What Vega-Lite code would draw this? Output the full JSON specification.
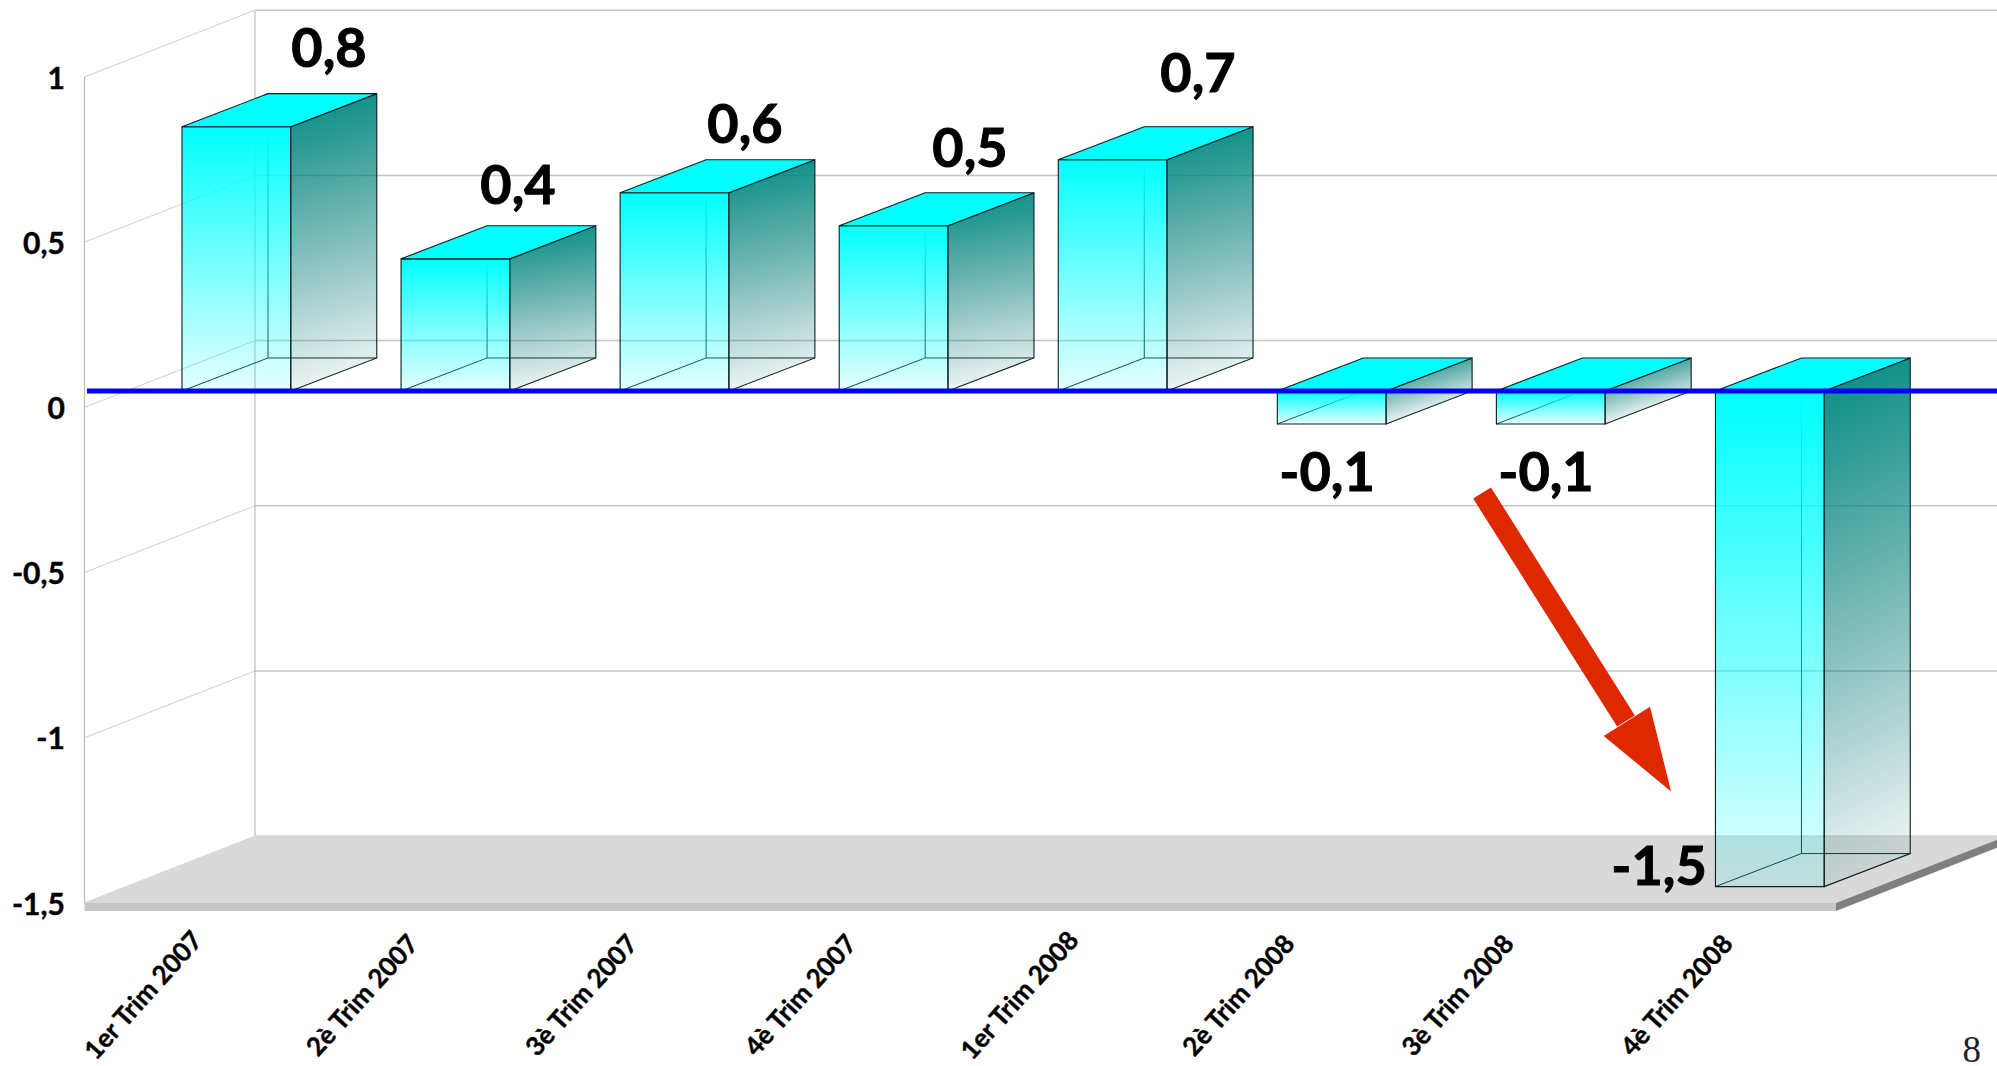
{"$schema":"https://vega.github.io/schema/vega-lite/v6.json","width":1997,"height":1066,"autosize":{"type":"none"},"padding":0,"background":"white","config":{"view":{"stroke":null},"axis":{"disable":true},"legend":{"disable":true}},"datasets":{"bars":[{"trimestre":"1er Trim 2007","q":1,"valeur":0.8,"etiquette":"0,8"},{"trimestre":"2è Trim 2007","q":2,"valeur":0.4,"etiquette":"0,4"},{"trimestre":"3è Trim 2007","q":3,"valeur":0.6,"etiquette":"0,6"},{"trimestre":"4è Trim 2007","q":4,"valeur":0.5,"etiquette":"0,5"},{"trimestre":"1er Trim 2008","q":5,"valeur":0.7,"etiquette":"0,7"},{"trimestre":"2è Trim 2008","q":6,"valeur":-0.1,"etiquette":"-0,1"},{"trimestre":"3è Trim 2008","q":7,"valeur":-0.1,"etiquette":"-0,1"},{"trimestre":"4è Trim 2008","q":8,"valeur":-1.5,"etiquette":"-1,5"}],"ticks":[{"tick":1,"txt":"1"},{"tick":0.5,"txt":"0,5"},{"tick":0,"txt":"0"},{"tick":-0.5,"txt":"-0,5"},{"tick":-1,"txt":"-1"},{"tick":-1.5,"txt":"-1,5"}],"plane":[{"plane":0},{"plane":1}],"one":[{"n":1}]},"data":{"name":"bars"},"transform":[{"calculate":"datum.q-0.2465","as":"left"},{"calculate":"datum.q+0.25","as":"right"},{"calculate":"max(datum.valeur,0)","as":"top"},{"calculate":"min(datum.valeur,0)","as":"base"},{"calculate":"datum.left+0.3926","as":"bl"},{"calculate":"datum.right+0.3926","as":"br"},{"calculate":"datum.top+0.1","as":"tb"},{"calculate":"datum.base+0.1","as":"bb"}],"layer":[{"data":{"name":"ticks"},"transform":[{"calculate":"datum.tick+0.1526","as":"yb"}],"mark":{"type":"rule","color":"#c4c4c4","strokeWidth":1.5},"encoding":{"x":{"datum":1.0867,"type":"quantitative","scale":{"domain":[-0.0773,9.0387],"nice":false,"zero":false}},"x2":{"datum":9.0387},"y":{"field":"yb","type":"quantitative","scale":{"domain":[-2.043,1.1834],"nice":false,"zero":false}}}},{"data":{"name":"ticks"},"transform":[{"calculate":"datum.tick+0.1526","as":"yb"},{"calculate":"datum.tick-0.0496","as":"yf"}],"mark":{"type":"rule","color":"#cfcfcf","strokeWidth":1},"encoding":{"x":{"datum":0.3084,"type":"quantitative"},"x2":{"datum":1.0867},"y":{"field":"yf","type":"quantitative"},"y2":{"field":"yb"}}},{"data":{"name":"one"},"mark":{"type":"rule","color":"#bdbdbd","strokeWidth":1.2},"encoding":{"x":{"datum":0.3084,"type":"quantitative"},"y":{"datum":0.9504,"type":"quantitative"},"y2":{"datum":-1.5496}}},{"data":{"name":"one"},"mark":{"type":"rule","color":"#bdbdbd","strokeWidth":1.2},"encoding":{"x":{"datum":1.0867,"type":"quantitative"},"y":{"datum":1.1526,"type":"quantitative"},"y2":{"datum":-1.3474}}},{"data":{"name":"plane"},"transform":[{"calculate":"0.3084+0.776*datum.plane","as":"x1"},{"calculate":"8.3037+0.776*datum.plane","as":"x2"},{"calculate":"-1.5496+0.2022*datum.plane","as":"y1"}],"mark":{"type":"area","orient":"horizontal","color":"#d9d9d9"},"encoding":{"y":{"field":"y1","type":"quantitative"},"x":{"field":"x1","type":"quantitative"},"x2":{"field":"x2"}}},{"data":{"name":"plane"},"transform":[{"calculate":"8.3037+0.776*datum.plane","as":"x1"},{"calculate":"-1.5496+0.2022*datum.plane","as":"y1"},{"calculate":"-1.5738+0.2022*datum.plane","as":"y2"}],"mark":{"type":"area","orient":"vertical","color":"#7f7f7f"},"encoding":{"x":{"field":"x1","type":"quantitative"},"y":{"field":"y1","type":"quantitative"},"y2":{"field":"y2"}}},{"data":{"name":"one"},"mark":{"type":"rect","color":"#c6c6c6"},"encoding":{"x":{"datum":0.3084,"type":"quantitative"},"x2":{"datum":8.3037},"y":{"datum":-1.5496,"type":"quantitative"},"y2":{"datum":-1.5738}}},{"mark":{"type":"rule","color":"#0a2e2e","strokeWidth":1},"encoding":{"x":{"field":"bl","type":"quantitative"},"y":{"field":"tb","type":"quantitative"},"y2":{"field":"bb"}}},{"mark":{"type":"rule","color":"#0a2e2e","strokeWidth":1},"encoding":{"x":{"field":"bl","type":"quantitative"},"x2":{"field":"br"},"y":{"field":"bb","type":"quantitative"}}},{"mark":{"type":"rule","color":"#0a2e2e","strokeWidth":1},"encoding":{"x":{"field":"left","type":"quantitative"},"x2":{"field":"bl"},"y":{"field":"base","type":"quantitative"},"y2":{"field":"bb"}}},{"mark":{"type":"rect","stroke":"#0a2020","strokeWidth":1.1,"fill":{"gradient":"linear","x1":0,"y1":0,"x2":0,"y2":1,"stops":[{"offset":0,"color":"rgba(0,255,255,1)"},{"offset":1,"color":"rgba(0,255,255,0.1)"}]}},"encoding":{"x":{"field":"left","type":"quantitative"},"x2":{"field":"right"},"y":{"field":"top","type":"quantitative"},"y2":{"field":"base"}}},{"transform":[{"filter":"datum.valeur<-0.2||datum.valeur>0.2"},{"calculate":"[0,1]","as":"t"},{"flatten":["t"]},{"calculate":"datum.right+0.3926*datum.t","as":"sx"},{"calculate":"datum.top+0.1*datum.t","as":"sy"},{"calculate":"datum.base+0.1*datum.t","as":"sy2"}],"mark":{"type":"area","orient":"vertical","stroke":"#0a2020","strokeWidth":1.1,"fill":{"gradient":"linear","x1":0,"y1":0,"x2":0.08,"y2":1,"stops":[{"offset":0,"color":"rgba(0,140,130,1)"},{"offset":1,"color":"rgba(0,110,110,0.07)"}]}},"encoding":{"x":{"field":"sx","type":"quantitative"},"y":{"field":"sy","type":"quantitative"},"y2":{"field":"sy2"},"detail":{"field":"q","type":"nominal"}}},{"transform":[{"filter":"datum.valeur>=-0.2&&datum.valeur<=0.2"},{"calculate":"[0,1]","as":"t"},{"flatten":["t"]},{"calculate":"datum.right+0.3926*datum.t","as":"sx"},{"calculate":"datum.top+0.1*datum.t","as":"sy"},{"calculate":"datum.base+0.1*datum.t","as":"sy2"}],"mark":{"type":"area","orient":"vertical","stroke":"#0a2020","strokeWidth":1.1,"fill":{"gradient":"linear","x1":0,"y1":0,"x2":0.4,"y2":1,"stops":[{"offset":0.1,"color":"rgba(0,140,130,1)"},{"offset":0.9,"color":"rgba(0,110,110,0.04)"}]}},"encoding":{"x":{"field":"sx","type":"quantitative"},"y":{"field":"sy","type":"quantitative"},"y2":{"field":"sy2"},"detail":{"field":"q","type":"nominal"}}},{"transform":[{"calculate":"[0,1]","as":"t"},{"flatten":["t"]},{"calculate":"datum.left+0.3926*datum.t","as":"tx"},{"calculate":"datum.right+0.3926*datum.t","as":"tx2"},{"calculate":"datum.top+0.1*datum.t","as":"ty"}],"mark":{"type":"area","orient":"horizontal","fill":"#00ffff","stroke":"#0a2020","strokeWidth":1.1},"encoding":{"y":{"field":"ty","type":"quantitative"},"x":{"field":"tx","type":"quantitative"},"x2":{"field":"tx2"},"detail":{"field":"q","type":"nominal"}}},{"data":{"name":"one"},"mark":{"type":"rule","color":"#0000f0","strokeWidth":5},"encoding":{"x":{"datum":0.3198,"type":"quantitative"},"x2":{"datum":9.0387},"y":{"datum":0,"type":"quantitative"}}},{"data":{"name":"one"},"mark":{"type":"rule","color":"#dd2800","strokeWidth":21},"encoding":{"x":{"datum":6.688,"type":"quantitative"},"x2":{"datum":7.345},"y":{"datum":-0.3087,"type":"quantitative"},"y2":{"datum":-0.9988}}},{"data":{"name":"one"},"mark":{"type":"point","filled":true,"opacity":1,"color":"#dd2800","shape":"M0,-1L0.66,1L-0.66,1Z","size":6889,"angle":147.8},"encoding":{"x":{"datum":7.45,"type":"quantitative"},"y":{"datum":-1.106,"type":"quantitative"}}},{"transform":[{"calculate":"[1.4245,2.2873,3.3235,4.3505,5.3913,5.9802,6.9798,7.4957][datum.q-1]","as":"lx"},{"calculate":"[1.0301,0.6155,0.8001,0.7275,0.9545,-0.2532,-0.2532,-1.4456][datum.q-1]","as":"ly"}],"mark":{"type":"text","font":"Lato","fontWeight":"bold","fontSize":54,"color":"#000000","stroke":"#000000","strokeWidth":1,"align":"center","baseline":"middle"},"encoding":{"x":{"field":"lx","type":"quantitative"},"y":{"field":"ly","type":"quantitative"},"text":{"field":"etiquette","type":"nominal"}}},{"data":{"name":"ticks"},"transform":[{"calculate":"datum.tick-0.0576","as":"yf"}],"mark":{"type":"text","font":"Lato","fontWeight":"bold","fontSize":30,"color":"#000000","stroke":"#000000","strokeWidth":0.4,"align":"right","baseline":"middle"},"encoding":{"x":{"datum":0.219,"type":"quantitative"},"y":{"field":"yf","type":"quantitative"},"text":{"field":"txt","type":"nominal"}}},{"transform":[{"calculate":"datum.q-0.42","as":"cx"}],"mark":{"type":"text","font":"Lato","fontWeight":"bold","fontSize":26,"color":"#000000","stroke":"#000000","strokeWidth":0.4,"align":"center","baseline":"middle","angle":312},"encoding":{"x":{"field":"cx","type":"quantitative"},"y":{"datum":-1.831,"type":"quantitative"},"text":{"field":"trimestre","type":"nominal"}}},{"data":{"name":"one"},"mark":{"type":"text","font":"Liberation Serif","fontSize":37,"color":"#222222","align":"center","baseline":"middle","text":"8"},"encoding":{"x":{"datum":8.924,"type":"quantitative"},"y":{"datum":-1.9976,"type":"quantitative"}}}]}
